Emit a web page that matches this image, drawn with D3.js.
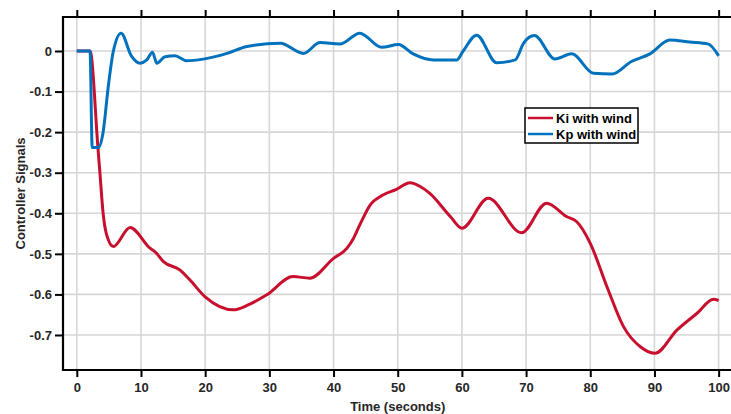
<!DOCTYPE html>
<html>
<head>
<meta charset="utf-8">
<script src="https://cdn.jsdelivr.net/npm/d3@7"></script>
<style>
  html, body { margin: 0; padding: 0; background: #fff; }
  svg { display: block; font-family: "Liberation Sans", Arial, sans-serif; }
</style>
</head>
<body>
<svg id="chart" width="731" height="414"></svg>
<script>
// Controller signal traces (time in seconds, signal value)
const kiTime = [0, 2.06, 3.3, 3.6, 4.1, 4.6, 5.7, 8.3, 11.4, 12.2, 13.5, 16.1, 17.6, 20, 24.4, 26.7, 29.6, 33.7, 36.3, 40, 42.1, 43.1, 44.2, 45.7, 47.7, 49.8, 51.9, 53.5, 55, 58.2, 60, 64.1, 69.3, 73.2, 76.3, 77.9, 80, 82.6, 85.2, 87.8, 90.1, 93.5, 96.6, 99.2, 100];
const kiValue = [0, 0, -0.24, -0.3, -0.4, -0.45, -0.482, -0.435, -0.486, -0.495, -0.519, -0.54, -0.564, -0.606, -0.638, -0.626, -0.601, -0.556, -0.56, -0.511, -0.486, -0.462, -0.425, -0.38, -0.355, -0.341, -0.325, -0.334, -0.351, -0.408, -0.437, -0.363, -0.448, -0.375, -0.408, -0.421, -0.474, -0.581, -0.68, -0.729, -0.745, -0.688, -0.647, -0.612, -0.615];

const kpTime = [0, 2.06, 2.4, 3.35, 4.1, 4.9, 5.7, 6.9, 8.5, 9.85, 10.9, 11.8, 12.45, 13.75, 15.3, 17.1, 19.7, 23.4, 26.5, 31.7, 35.3, 37.9, 41, 44.1, 47.5, 50.1, 52.4, 55.6, 59.2, 60.2, 62.3, 65.4, 68.3, 69.6, 71.3, 74.5, 77.1, 80.5, 83.4, 86.4, 89.3, 92.4, 95.5, 98.4, 100];
const kpValue = [0, 0, -0.238, -0.238, -0.2, -0.088, 0, 0.044, -0.012, -0.03, -0.022, -0.003, -0.03, -0.014, -0.012, -0.024, -0.02, -0.006, 0.011, 0.019, -0.006, 0.021, 0.017, 0.044, 0.009, 0.016, -0.007, -0.022, -0.022, 0.0, 0.039, -0.029, -0.022, 0.019, 0.038, -0.02, -0.007, -0.055, -0.057, -0.026, -0.007, 0.027, 0.022, 0.017, -0.012];

const xTicks = [0, 10, 20, 30, 40, 50, 60, 70, 80, 90, 100];
const yTicks = [-0.7, -0.6, -0.5, -0.4, -0.3, -0.2, -0.1, 0];
const seriesNames = ["Ki with wind", "Kp with wind"];
const seriesColors = ["#c8102e", "#0072bd"];

const svg = d3.select("#chart");
const pLeft = 63, pTop = 17, pRight = 735, pBottom = 370;
const textColor = "#262626";

const x = d3.scaleLinear().domain([-2.15, 102.55]).range([pLeft, pRight]);
const y = d3.scaleLinear().domain([-0.7863, 0.0838]).range([pBottom, pTop]);

const fmtY = d => d === 0 ? "0" : (d < 0 ? "-" : "") + Math.abs(d).toFixed(1);

svg.append("defs").append("clipPath").attr("id", "plot-clip")
  .append("rect").attr("x", pLeft).attr("y", pTop).attr("width", pRight - pLeft).attr("height", pBottom - pTop);

// grid
const grid = svg.append("g").attr("stroke", "#d6d6d6").attr("stroke-width", 1.6);
grid.selectAll("line.gx").data(xTicks).join("line").attr("class", "gx")
  .attr("x1", d => x(d)).attr("x2", d => x(d)).attr("y1", pTop).attr("y2", pBottom);
grid.selectAll("line.gy").data(yTicks).join("line").attr("class", "gy")
  .attr("x1", pLeft).attr("x2", pRight).attr("y1", d => y(d)).attr("y2", d => y(d));

// data lines
const lineGen = d3.line().curve(d3.curveMonotoneX).x(d => x(d[0])).y(d => y(d[1]));
const kiData = kiTime.map((t, i) => [t, kiValue[i]]);
const kpData = kpTime.map((t, i) => [t, kpValue[i]]);
const plot = svg.append("g").attr("clip-path", "url(#plot-clip)");
plot.append("path").datum(kiData).attr("d", lineGen)
  .attr("fill", "none").attr("stroke", seriesColors[0]).attr("stroke-width", 3).attr("stroke-linejoin", "round");
plot.append("path").datum(kpData).attr("d", lineGen)
  .attr("fill", "none").attr("stroke", seriesColors[1]).attr("stroke-width", 3).attr("stroke-linejoin", "round");

// axes
const styleAxis = g => {
  g.select(".domain").remove();
  g.selectAll(".tick line").attr("stroke", "#000").attr("stroke-width", 2);
  g.selectAll(".tick text").attr("fill", textColor)
    .style("font-size", "13px").style("font-weight", "bold");
};
svg.append("g").attr("transform", `translate(0,${pBottom})`)
  .call(d3.axisBottom(x).tickValues(xTicks).tickSize(7).tickPadding(6).tickFormat(d3.format("d")))
  .call(styleAxis);
svg.append("g").attr("transform", `translate(0,${pTop})`)
  .call(d3.axisTop(x).tickValues(xTicks).tickSize(7).tickFormat(""))
  .call(styleAxis);
svg.append("g").attr("transform", `translate(${pLeft},0)`)
  .call(d3.axisLeft(y).tickValues(yTicks).tickSize(8).tickPadding(3).tickFormat(fmtY))
  .call(styleAxis);

// frame (left, top, bottom)
svg.append("path")
  .attr("d", `M${pRight},${pTop}H${pLeft}V${pBottom}H${pRight}`)
  .attr("fill", "none").attr("stroke", "#000").attr("stroke-width", 2.2);

// axis titles
svg.append("text").attr("x", x(50)).attr("y", 411).attr("text-anchor", "middle")
  .attr("fill", textColor).style("font-size", "13px").style("font-weight", "bold")
  .text("Time (seconds)");
svg.append("text").attr("transform", `translate(25,${(pTop + pBottom) / 2}) rotate(-90)`)
  .attr("text-anchor", "middle").attr("fill", textColor)
  .style("font-size", "13px").style("font-weight", "bold")
  .text("Controller Signals");

// legend
const leg = svg.append("g").attr("transform", "translate(525,108)");
leg.append("rect").attr("width", 113).attr("height", 35)
  .attr("fill", "#fff").attr("stroke", "#000").attr("stroke-width", 1.5);
seriesNames.forEach((name, i) => {
  const yy = 10 + i * 16;
  leg.append("line").attr("x1", 3).attr("x2", 28).attr("y1", yy).attr("y2", yy)
    .attr("stroke", seriesColors[i]).attr("stroke-width", 2.5);
  leg.append("text").attr("x", 31).attr("y", yy + 4.5)
    .attr("fill", "#000").style("font-size", "13px").style("font-weight", "bold")
    .text(name);
});
</script>
</body>
</html>
